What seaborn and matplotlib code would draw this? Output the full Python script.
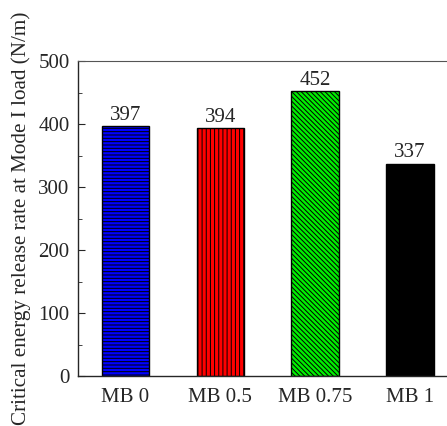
import matplotlib
matplotlib.use("Agg")
import matplotlib.pyplot as plt
import numpy as np
import pandas as pd
import seaborn as sns

# data
samples = ["MB 0", "MB 0.5", "MB 0.75", "MB 1"]
energy = [397, 394, 452, 337]
colours = ["#0000ff", "#ff0000", "#00ee00", "#000000"]
hatches = ["-----", "||||", "\\\\\\\\\\\\\\", ""]

df = pd.DataFrame({"sample": samples, "G": energy})

sns.set_style("ticks")
plt.rcParams["font.family"] = ["Liberation Serif", "DejaVu Serif"]
plt.rcParams["hatch.linewidth"] = 0.7

fig = plt.figure(figsize=(4.47, 4.26), dpi=100)
ax = fig.add_axes([78/447, 1 - 376/426, (446-78)/447, (376-61)/426])

sns.barplot(data=df, x="sample", y="G", hue="sample", palette=colours,
            width=0.5, legend=False, ax=ax, saturation=1)
for bar, h in zip(ax.patches, hatches):
    bar.set_hatch(h)
    bar.set_edgecolor("black")
    bar.set_linewidth(1)

for i, v in enumerate(energy):
    ax.text(i, v + 2, str(v), ha="center", va="bottom", fontsize=15)

ax.set_xlim(-0.5, 3.38)
ax.set_ylim(0, 500)
ax.set_yticks(np.arange(0, 501, 100))
ax.set_yticks(np.arange(50, 500, 100), minor=True)
ax.tick_params(axis="y", which="major", direction="in", length=5, labelsize=15, pad=6)
ax.tick_params(axis="y", which="minor", direction="in", length=3)
ax.tick_params(axis="x", length=0, labelsize=15, pad=9)
ax.set_xlabel("")
ax.set_ylabel("Critical energy release rate at Mode I load (N/m)", fontsize=15.2, labelpad=5)
ax.spines["right"].set_visible(False)
ax.spines["top"].set_color("#555555")
for s in ["left", "bottom"]:
    ax.spines[s].set_linewidth(1)

fig.savefig("out.png", dpi=100)
